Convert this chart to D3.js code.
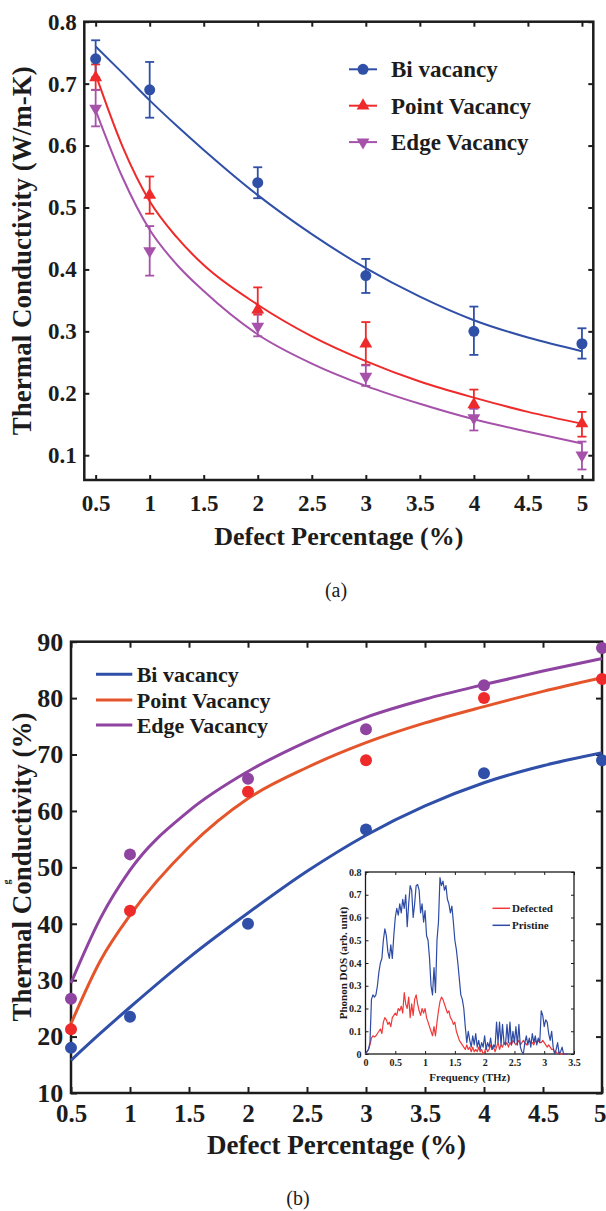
<!DOCTYPE html>
<html><head><meta charset="utf-8">
<script src="https://cdn.jsdelivr.net/npm/d3@7"></script>
<style>
html,body{margin:0;padding:0;background:#fff;}
svg{display:block;}
text{font-family:"Liberation Serif","Times New Roman",serif;}
</style></head><body>
<svg id="c" width="606" height="1211"></svg>
<script>
// ---------- Panel (a) data ----------
const defectA = [0.5, 1, 2, 3, 4, 5];
const biA = [0.74, 0.69, 0.54, 0.39, 0.30, 0.28];
const biHiA = [0.77, 0.735, 0.565, 0.417, 0.34, 0.305];
const biLoA = [0.71, 0.645, 0.515, 0.362, 0.262, 0.256];
const pointA = [0.71, 0.52, 0.335, 0.28, 0.182, 0.151];
const pointHiA = [0.731, 0.55, 0.371, 0.315, 0.206, 0.17];
const pointLoA = [0.69, 0.49, 0.327, 0.246, 0.176, 0.13];
const edgeA = [0.66, 0.43, 0.308, 0.227, 0.16, 0.10];
const edgeHiA = [0.69, 0.47, 0.33, 0.245, 0.175, 0.122];
const edgeLoA = [0.631, 0.39, 0.292, 0.212, 0.14, 0.077];
const fitXA = [0.5, 0.75, 1, 1.25, 1.5, 2, 2.5, 3, 3.5, 4, 4.5, 5];
const biFitA = [0.76, 0.717, 0.673, 0.632, 0.593, 0.52, 0.457, 0.402, 0.356, 0.318, 0.29, 0.268];
const pointFitA = [0.715, 0.598, 0.51, 0.452, 0.407, 0.343, 0.292, 0.252, 0.219, 0.193, 0.17, 0.151];
const edgeFitA = [0.657, 0.548, 0.464, 0.408, 0.365, 0.295, 0.248, 0.212, 0.183, 0.158, 0.138, 0.119];
const xTicksA = [0.5, 1, 1.5, 2, 2.5, 3, 3.5, 4, 4.5, 5];
const yTicksA = [0.1, 0.2, 0.3, 0.4, 0.5, 0.6, 0.7, 0.8];
const seriesNames = ["Bi vacancy", "Point Vacancy", "Edge Vacancy"];

// ---------- Panel (b) data ----------
const defectB = [0.5, 1, 2, 3, 4, 5];
const biB = [18.0, 23.5, 40.0, 56.7, 66.7, 69.0];
const pointB = [21.3, 42.3, 63.4, 69.0, 80.0, 83.4];
const edgeB = [26.7, 52.3, 65.7, 74.5, 82.3, 88.9];
const fitXB = [0.5, 0.75, 1, 1.5, 2, 2.5, 3, 3.5, 4, 4.5, 5];
const biFitB = [15.8, 20.6, 25.2, 34.0, 41.9, 49.3, 55.7, 60.9, 65.0, 68.0, 70.3];
const pointFitB = [22.3, 33.5, 41.5, 53.6, 62.2, 67.7, 72.1, 75.6, 78.5, 81.2, 83.6];
const edgeFitB = [29.5, 41.0, 49.5, 60.0, 67.0, 72.3, 76.6, 79.8, 82.4, 84.8, 87.0];
const xTicksB = [0.5, 1, 1.5, 2, 2.5, 3, 3.5, 4, 4.5, 5];
const yTicksB = [10, 20, 30, 40, 50, 60, 70, 80, 90];

// ---------- Inset (phonon DOS) data, 0.025 THz steps from 0 ----------
const dosStep = 0.025;
const pristine = [0.00,0.01,0.02,0.05,0.24,0.26,0.25,0.26,0.30,0.36,0.40,0.42,0.50,0.55,0.52,0.45,0.42,0.48,0.42,0.52,
0.60,0.64,0.61,0.66,0.62,0.68,0.64,0.70,0.56,0.66,0.74,0.72,0.60,0.66,0.74,0.745,0.72,0.62,0.66,0.58,
0.63,0.52,0.50,0.42,0.30,0.26,0.38,0.27,0.50,0.58,0.775,0.74,0.76,0.72,0.74,0.68,0.66,0.62,0.65,0.58,
0.50,0.46,0.40,0.33,0.26,0.24,0.20,0.12,0.05,0.10,0.06,0.03,0.08,0.04,0.09,0.03,0.06,0.02,0.05,0.03,
0.08,0.02,0.05,0.03,0.07,0.02,0.04,0.03,0.14,0.05,0.14,0.04,0.13,0.05,0.04,0.13,0.05,0.14,0.04,0.10,
0.05,0.12,0.04,0.13,0.03,0.01,0.00,0.05,0.08,0.04,0.07,0.03,0.09,0.05,0.08,0.04,0.07,0.05,0.19,0.17,
0.12,0.15,0.14,0.09,0.06,0.10,0.03,0.00,0.02,0.05,0.00,0.01,0.03,0.00,0.00,0.00,0.00];
const defected = [0.00,0.01,0.02,0.04,0.07,0.08,0.075,0.08,0.09,0.10,0.11,0.09,0.14,0.16,0.15,0.13,0.14,0.12,0.16,0.17,
0.18,0.17,0.20,0.19,0.21,0.18,0.27,0.22,0.20,0.25,0.16,0.22,0.17,0.24,0.26,0.22,0.19,0.17,0.20,0.18,
0.20,0.16,0.14,0.12,0.10,0.08,0.12,0.08,0.14,0.19,0.23,0.25,0.24,0.22,0.20,0.18,0.19,0.16,0.15,0.13,
0.14,0.10,0.08,0.06,0.05,0.04,0.03,0.02,0.04,0.02,0.03,0.01,0.03,0.01,0.02,0.01,0.03,0.01,0.02,0.00,
0.01,0.03,0.01,0.02,0.04,0.02,0.03,0.01,0.03,0.05,0.02,0.04,0.03,0.05,0.04,0.05,0.03,0.05,0.04,0.06,
0.05,0.04,0.05,0.06,0.04,0.05,0.06,0.05,0.04,0.05,0.06,0.05,0.05,0.04,0.06,0.05,0.06,0.05,0.05,0.06,
0.05,0.04,0.03,0.04,0.03,0.02,0.02,0.01,0.01,0.00,0.01,0.00,0.00,0.00,0.00,0.00,0.00];
const xTicksI = [0, 0.5, 1, 1.5, 2, 2.5, 3, 3.5];
const yTicksI = [0, 0.1, 0.2, 0.3, 0.4, 0.5, 0.6, 0.7, 0.8];
const insetNames = ["Defected", "Pristine"];

// ---------- colours ----------
const colA = ["#3050A8", "#EE2A2A", "#A652AA"];
const colBLine = ["#2F4FA8", "#E5552B", "#8E44A0"];
const colBMark = ["#2F4FA8", "#EE2A2A", "#8E44A0"];
const colI = ["#F03A3A", "#2D4BA5"];
const ink = "#1c1c1c";

const svg = d3.select("#c");
svg.append("rect").attr("width", 606).attr("height", 1211).attr("fill", "#fff");

function styleAxis(g, fs, sw) {
  g.select(".domain").remove();
  g.selectAll(".tick line").attr("stroke", ink).attr("stroke-width", sw);
  g.selectAll("text").style("font-size", fs + "px").style("font-weight", "bold")
    .style("font-family", '"Liberation Serif","Times New Roman",serif').attr("fill", ink);
}

function drawFrame(x, y, xt, yt, o) {
  const [x0, x1] = x.range();
  const [y0, y1] = y.range();
  const fmt = d3.format("");
  const gb = svg.append("g").attr("transform", `translate(0,${y0})`)
    .call(d3.axisBottom(x).tickValues(xt).tickSizeInner(-o.tick).tickSizeOuter(0).tickPadding(o.xpad).tickFormat(fmt))
    .call(g => styleAxis(g, o.xfs, o.tsw));
  if (o.lastEnd) {
    // keep the right-most label inside the picture
    gb.selectAll(".tick text").filter((d, i, n) => i === n.length - 1)
      .attr("text-anchor", "end").attr("x", 606 - x(xt[xt.length - 1]));
  }
  svg.append("g").attr("transform", `translate(0,${y1})`)
    .call(d3.axisTop(x).tickValues(xt).tickSizeInner(-o.tick).tickSizeOuter(0).tickFormat(""))
    .call(g => styleAxis(g, o.xfs, o.tsw));
  svg.append("g").attr("transform", `translate(${x0},0)`)
    .call(d3.axisLeft(y).tickValues(yt).tickSizeInner(-o.tick).tickSizeOuter(0).tickPadding(o.ypad).tickFormat(fmt))
    .call(g => styleAxis(g, o.yfs, o.tsw));
  svg.append("g").attr("transform", `translate(${x1},0)`)
    .call(d3.axisRight(y).tickValues(yt).tickSizeInner(-o.tick).tickSizeOuter(0).tickFormat(""))
    .call(g => styleAxis(g, o.yfs, o.tsw));
  svg.append("rect").attr("x", x0).attr("y", y1).attr("width", x1 - x0).attr("height", y0 - y1)
    .attr("fill", "none").attr("stroke", ink).attr("stroke-width", o.fsw);
}

function boldText(x, y, s, fs, anchor, rot) {
  const t = svg.append("text").attr("font-size", fs).attr("font-weight", "bold").attr("fill", ink)
    .attr("text-anchor", anchor || "start").text(s);
  if (rot) t.attr("transform", `translate(${x},${y}) rotate(${rot})`);
  else t.attr("x", x).attr("y", y);
  return t;
}

const triUp = d3.symbol().type(d3.symbolTriangle).size(72)();
const circA = d3.symbol().type(d3.symbolCircle).size(95)();

// =============== Panel (a) ===============
const xA = d3.scaleLinear().domain([0.395, 5.105]).range([84.3, 593.3]);
const yA = d3.scaleLinear().domain([0.06, 0.8]).range([480, 21.7]);
drawFrame(xA, yA, xTicksA, yTicksA, {tick: 5, xpad: 15, ypad: 7.5, xfs: 23, yfs: 23, tsw: 2, fsw: 2.5});

const lineA = d3.line().x(d => xA(d[0])).y(d => yA(d[1])).curve(d3.curveMonotoneX);
const fitsA = [biFitA, pointFitA, edgeFitA];
fitsA.forEach((f, i) => {
  svg.append("path").attr("d", lineA(fitXA.map((x, j) => [x, f[j]])))
    .attr("fill", "none").attr("stroke", colA[i]).attr("stroke-width", 2);
});
const valsA = [biA, pointA, edgeA], hiA = [biHiA, pointHiA, edgeHiA], loA = [biLoA, pointLoA, edgeLoA];
valsA.forEach((v, i) => {
  const g = svg.append("g").attr("stroke", colA[i]).attr("stroke-width", 1.8);
  defectA.forEach((x, j) => {
    const cx = xA(x);
    g.append("line").attr("x1", cx).attr("x2", cx).attr("y1", yA(hiA[i][j])).attr("y2", yA(loA[i][j]));
    [hiA[i][j], loA[i][j]].forEach(e => g.append("line").attr("x1", cx - 4.5).attr("x2", cx + 4.5).attr("y1", yA(e)).attr("y2", yA(e)));
  });
});
function markerA(i, cx, cy) {
  const p = svg.append("path").attr("fill", colA[i]);
  if (i === 0) p.attr("d", circA).attr("transform", `translate(${cx},${cy})`);
  else if (i === 1) p.attr("d", triUp).attr("transform", `translate(${cx},${cy})`);
  else p.attr("d", triUp).attr("transform", `translate(${cx},${cy}) rotate(180)`);
}
valsA.forEach((v, i) => defectA.forEach((x, j) => markerA(i, xA(x), yA(v[j]))));

// legend (a)
seriesNames.forEach((n, i) => {
  const by = 77.3 + i * 36.4;
  const ly = by - 8;
  svg.append("line").attr("x1", 349).attr("x2", 377).attr("y1", ly).attr("y2", ly)
    .attr("stroke", colA[i]).attr("stroke-width", 2);
  markerA(i, 363, ly);
  boldText(391, by, n, 23);
});

// titles (a)
boldText(338.8, 545, "Defect Percentage (%)", 26, "middle");
boldText(31, 250.8, "Thermal Conductivity (W/m-K)", 27, "middle", -90);
svg.append("text").attr("x", 336).attr("y", 596.5).attr("font-size", 20).attr("text-anchor", "middle")
  .attr("fill", ink).text("(a)");

// =============== Panel (b) ===============
const xB = d3.scaleLinear().domain([0.5, 5]).range([71, 602]);
const yB = d3.scaleLinear().domain([10, 90]).range([1093, 641.7]);
drawFrame(xB, yB, xTicksB, yTicksB, {tick: 6, xpad: 11.5, ypad: 7.7, xfs: 25, yfs: 26, tsw: 2, fsw: 2.5, lastEnd: true});

const lineB = d3.line().x(d => xB(d[0])).y(d => yB(d[1])).curve(d3.curveMonotoneX);
[biFitB, pointFitB, edgeFitB].forEach((f, i) => {
  svg.append("path").attr("d", lineB(fitXB.map((x, j) => [x, f[j]])))
    .attr("fill", "none").attr("stroke", colBLine[i]).attr("stroke-width", 3);
});
[biB, pointB, edgeB].forEach((v, i) => {
  defectB.forEach((x, j) => {
    svg.append("circle").attr("cx", xB(x)).attr("cy", yB(v[j])).attr("r", 6).attr("fill", colBMark[i]);
  });
});
seriesNames.forEach((n, i) => {
  const ly = [674.3, 700, 725][i];
  svg.append("line").attr("x1", 96).attr("x2", 132.3).attr("y1", ly).attr("y2", ly)
    .attr("stroke", colBLine[i]).attr("stroke-width", 3);
  boldText(136.7, ly + 7.5, n, 22);
});
boldText(336.5, 1153.5, "Defect Percentage (%)", 27, "middle");
boldText(31, 867, "Thermal Conductivity (%)", 27, "middle", -90);
svg.append("text").attr("transform", "translate(10,882) rotate(-90)").attr("font-size", 10)
  .attr("font-weight", "bold").attr("fill", ink).attr("text-anchor", "middle").text("g");
svg.append("text").attr("x", 298).attr("y", 1204.5).attr("font-size", 20).attr("text-anchor", "middle")
  .attr("fill", ink).text("(b)");

// =============== Inset ===============
const xI = d3.scaleLinear().domain([0, 3.5]).range([365.5, 574]);
const yI = d3.scaleLinear().domain([0, 0.8]).range([1054, 872]);
svg.append("rect").attr("x", 365.5).attr("y", 872).attr("width", 574 - 365.5).attr("height", 1054 - 872).attr("fill", "#fff");
drawFrame(xI, yI, xTicksI, yTicksI, {tick: 3, xpad: 5, ypad: 4, xfs: 10, yfs: 10, tsw: 1, fsw: 1.3});
const lineI = d3.line().x(d => xI(d[0])).y(d => yI(d[1]));
[defected, pristine].forEach((arr, i) => {
  svg.append("path").attr("d", lineI(arr.map((v, j) => [j * dosStep, v])))
    .attr("fill", "none").attr("stroke", colI[i]).attr("stroke-width", 1.2).attr("stroke-linejoin", "round");
});
insetNames.forEach((n, i) => {
  const ly = [908.3, 925.3][i];
  svg.append("line").attr("x1", 492.5).attr("x2", 510).attr("y1", ly).attr("y2", ly)
    .attr("stroke", colI[i]).attr("stroke-width", 1.5);
  boldText(512, ly + 3.8, n, 11);
});
boldText(469.7, 1081, "Frequency (THz)", 11, "middle");
boldText(347, 963, "Phonon DOS (arb. unit)", 11, "middle", -90);
</script>
</body></html>
